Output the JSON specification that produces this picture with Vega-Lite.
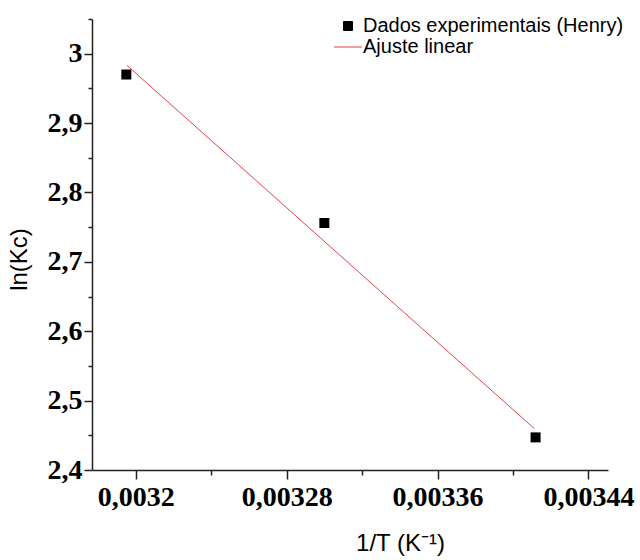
{
  "$schema": "https://vega.github.io/schema/vega-lite/v6.json",
  "autosize": {"type": "none"},
  "padding": {"left": 92, "top": 19, "right": 32, "bottom": 90},
  "width": 516,
  "height": 451,
  "background": "white",
  "datasets": {
    "pts": [
      {"x": 0.003195, "y": 2.970, "series": "Dados experimentais (Henry)"},
      {"x": 0.0033, "y": 2.756, "series": "Dados experimentais (Henry)"},
      {"x": 0.003412, "y": 2.447, "series": "Dados experimentais (Henry)"}
    ],
    "fit": [
      {"x": 0.0031954, "y": 2.983, "series": "Ajuste linear"},
      {"x": 0.0034114, "y": 2.4595, "series": "Ajuste linear"}
    ]
  },
  "config": {
    "view": {"stroke": null},
    "axis": {"grid": false}
  },
  "encoding": {
    "x": {
      "field": "x", "type": "quantitative",
      "scale": {"domain": [0.0031768, 0.0034504], "nice": false, "zero": false},
      "axis": {
        "values": [0.0032, 0.00324, 0.00328, 0.00332, 0.00336, 0.0034, 0.00344],
        "labelExpr": "abs(datum.value*12500 - round(datum.value*12500)) < 0.01 ? replace(format(datum.value, '~g'), '.', ',') : ''",
        "ticks": true, "tickSize": 9,
        "tickDash": {"condition": {"test": "abs(datum.value*12500 - round(datum.value*12500)) < 0.01", "value": [20, 0]}, "value": [5, 20]},
        "labelFont": "Liberation Serif", "labelFontWeight": "bold", "labelFontSize": 28, "labelColor": "black",
        "labelPadding": 4, "labelOverlap": false, "labelFlush": false,
        "title": "1/T (K⁻¹)", "titleFont": "Liberation Sans", "titleFontWeight": "normal", "titleFontSize": 24, "titleColor": "black", "titlePadding": 20,
        "titleX": 308, "titleAlign": "center",
        "domainColor": "#222", "domainWidth": 1.5, "tickColor": "#222", "tickWidth": 1.5
      }
    },
    "y": {
      "field": "y", "type": "quantitative",
      "scale": {"domain": [2.4, 3.05], "nice": false, "zero": false},
      "axis": {
        "values": [2.4, 2.45, 2.5, 2.55, 2.6, 2.65, 2.7, 2.75, 2.8, 2.85, 2.9, 2.95, 3.0, 3.05],
        "labelExpr": "abs(datum.value*10 - round(datum.value*10)) < 0.01 ? replace(format(datum.value, '~g'), '.', ',') : ''",
        "ticks": true, "tickSize": 8,
        "tickDash": {"condition": {"test": "abs(datum.value*10 - round(datum.value*10)) < 0.01", "value": [20, 0]}, "value": [4, 20]},
        "labelFont": "Liberation Serif", "labelFontWeight": "bold", "labelFontSize": 28, "labelColor": "black",
        "labelPadding": 2, "labelOverlap": false, "labelFlush": false,
        "title": "ln(Kc)", "titleFont": "Liberation Sans", "titleFontWeight": "normal", "titleFontSize": 24, "titleColor": "black", "titlePadding": 16,
        "titleY": 240,
        "domainColor": "#222", "domainWidth": 1.5, "tickColor": "#222", "tickWidth": 1.5
      }
    },
    "color": {
      "field": "series", "type": "nominal",
      "scale": {"domain": ["Dados experimentais (Henry)", "Ajuste linear"], "range": ["black", "#e8404a"]},
      "legend": {
        "orient": "none", "legendX": 246, "legendY": -3, "title": null, "padding": 0,
        "symbolSize": 784, "labelFont": "Liberation Sans", "labelFontSize": 20, "labelColor": "black",
        "labelOffset": 5, "rowPadding": 1, "labelLimit": 400,
        "encode": {
          "symbols": {
            "update": {
              "shape": {"signal": "datum.value === 'Ajuste linear' ? 'stroke' : 'square'"},
              "size": {"signal": "datum.value === 'Ajuste linear' ? 784 : 81"},
              "fill": {"signal": "datum.value === 'Ajuste linear' ? 'transparent' : 'black'"},
              "stroke": {"signal": "datum.value === 'Ajuste linear' ? '#e8404a' : 'black'"},
              "strokeWidth": {"value": 1},
              "opacity": {"value": 1}
            }
          }
        }
      }
    }
  },
  "layer": [
    {
      "data": {"name": "fit"},
      "mark": {"type": "line", "strokeWidth": 1}
    },
    {
      "data": {"name": "pts"},
      "mark": {"type": "point", "shape": "square", "filled": true, "size": 100, "opacity": 1}
    }
  ]
}
